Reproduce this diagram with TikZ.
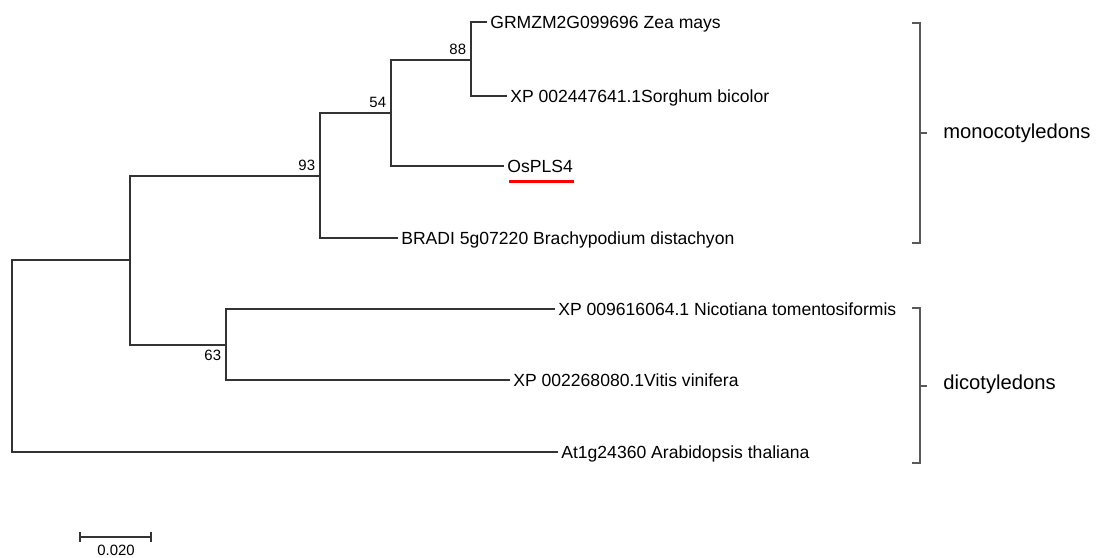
\documentclass[tikz,border=0pt]{standalone}
\usepackage{fontspec}
\setmainfont{Liberation Sans}
\usetikzlibrary{calc}

\tikzset{
    branch/.style={draw=black!80, line width=0.7pt},
    leaf/.style={anchor=west, inner xsep=1.7pt, inner ysep=0pt, text height=0.72em, text depth=0pt, font=\fontsize{10}{12}\selectfont},
    boot/.style={inner sep=2.6pt, font=\fontsize{8.5}{10}\selectfont},
    clade/.style={draw=black!65, line width=0.8pt},
    group/.style={anchor=west, inner sep=0pt, font=\fontsize{11.5}{14}\selectfont},
}

\begin{document}
\begin{tikzpicture}[x=0.02cm, y=-0.02cm]
    \useasboundingbox (0,0) rectangle (1117,558);

    % inner nodes of the tree
    \coordinate (root) at (12,452);
    \coordinate (nA)  at (130,260);
    \coordinate (n93) at (320,176);
    \coordinate (n54) at (391,113);
    \coordinate (n88) at (471,60);
    \coordinate (n63) at (226,345);

    % leaves
    \node[leaf] (zea) at (487,22)  {GRMZM2G099696 Zea mays};
    \node[leaf] (sor) at (507,96)  {XP 002447641.1Sorghum bicolor};
    \node[leaf] (osp) at (504,166) {OsPLS4};
    \node[leaf] (bra) at (398,238) {BRADI 5g07220 Brachypodium distachyon};
    \node[leaf] (nic) at (555,309) {XP 009616064.1 Nicotiana tomentosiformis};
    \node[leaf] (vit) at (510,380) {XP 002268080.1Vitis vinifera};
    \node[leaf] (ara) at (558,452) {At1g24360 Arabidopsis thaliana};

    % branches
    \draw[branch] (zea) -| (n88) |- (sor);
    \draw[branch] (n88) -| (n54) |- (osp);
    \draw[branch] (n54) -| (n93) |- (bra);
    \draw[branch] (nic) -| (n63) |- (vit);
    \draw[branch] (n93) -| (nA) |- (n63);
    \draw[branch] (nA) -| (root) |- (ara);

    % bootstrap values
    \node[boot, anchor=south east] (b88) at (n88) {88};
    \node[boot, anchor=south east] (b54) at (n54) {54};
    \node[boot, anchor=south east] (b93) at (n93) {93};
    \node[boot, anchor=north east] (b63) at (n63) {63};

    \draw[red, line width=1.6pt] ($(osp.south west)+(5,9)$) -- ($(osp.south east)+(-2,9)$);

    % groups
    \draw[clade] (912,23) -- (920,23) -- (920,243) -- (912,243);
    \draw[clade] (920,133) -- (927,133);
    \node[group] (mono) at (943,133) {monocotyledons};
    \draw[clade] (912,308) -- (920,308) -- (920,463) -- (912,463);
    \draw[clade] (920,386) -- (927,386);
    \node[group] (dico) at (943,384) {dicotyledons};

    % scale bar
    \coordinate (s1) at (80,537);
    \coordinate (s2) at (151,537);
    \draw[branch] (s1) -- (s2);
    \draw[branch] ($(s1)+(0,-5)$) -- ($(s1)+(0,5)$);
    \draw[branch] ($(s2)+(0,-5)$) -- ($(s2)+(0,5)$);
    \node[boot, inner sep=0pt] (sc) at (116,550) {0.020};
\end{tikzpicture}
\end{document}
